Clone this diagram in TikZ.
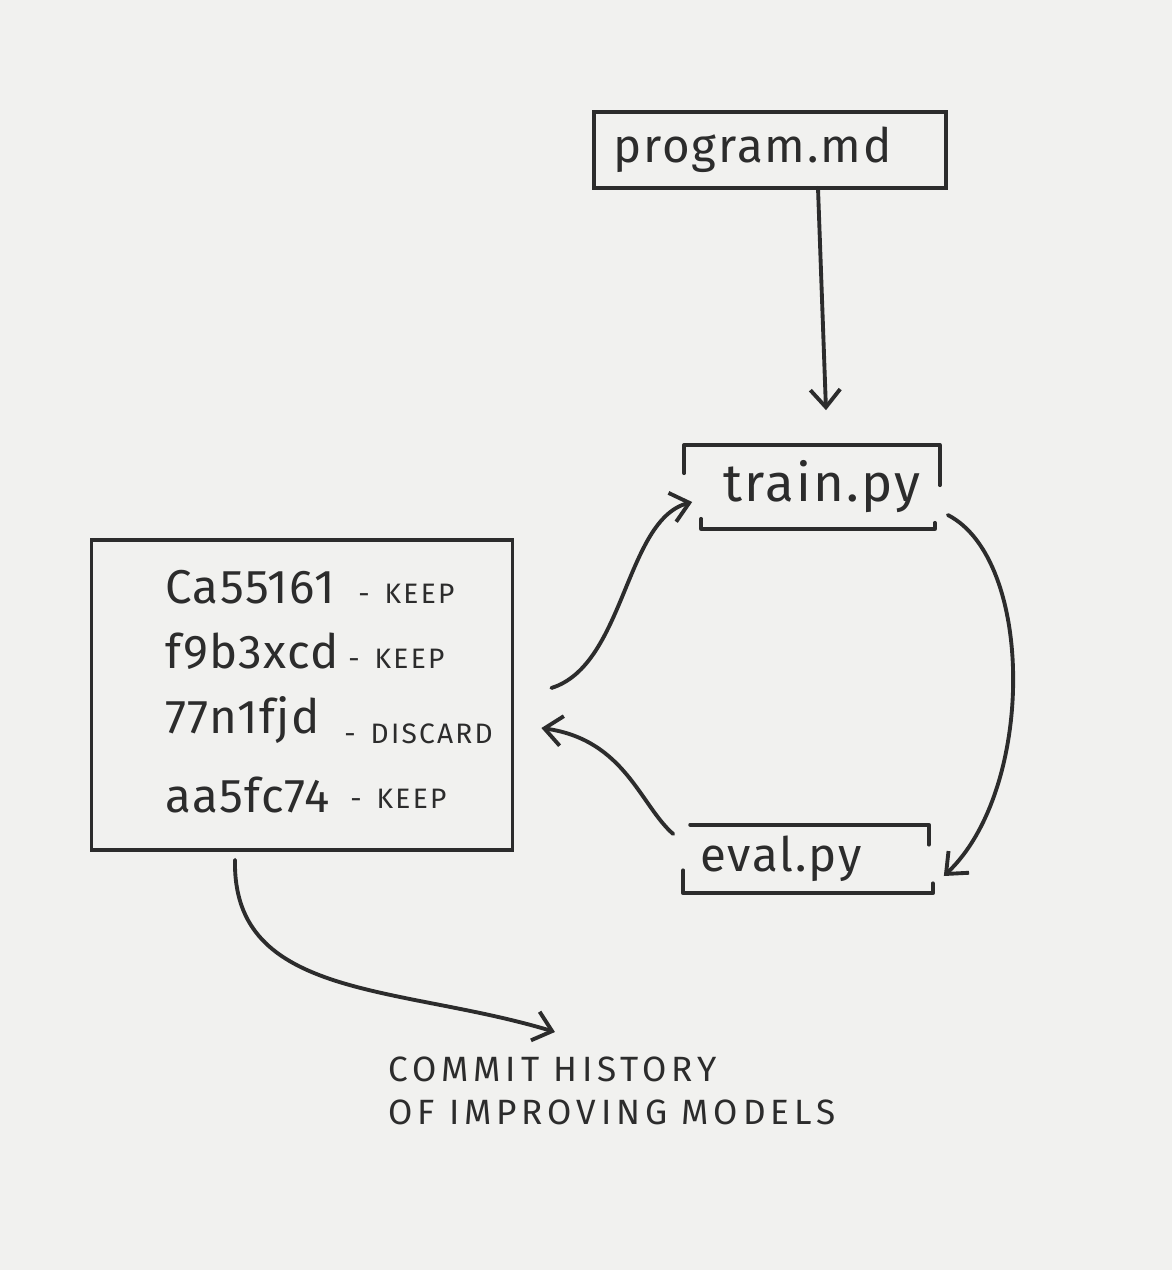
\documentclass[tikz,border=0pt]{standalone}
\usepackage{fontspec}
\setmainfont{Fira Sans}
\usetikzlibrary{arrows.meta}
\definecolor{inkc}{HTML}{2C2C2C}
\definecolor{paper}{HTML}{F1F1EF}
\begin{document}
\begin{tikzpicture}[x=0.02cm,y=-0.02cm,
  ink/.style={draw=inkc, line width=2.2pt, line cap=round, line join=round},
  arr/.style={ink, -{Straight Barb[length=10pt,width=17pt,line width=2.2pt]}},
  filetxt/.style={font=\fontsize{#1}{32}\selectfont\addfontfeature{LetterSpace=4}, text=inkc},
  hash/.style={font=\fontsize{27}{30}\selectfont\addfontfeature{LetterSpace=3}, text=inkc, anchor=base west, inner sep=0pt},
  verdict/.style={font=\fontsize{16}{18}\selectfont\addfontfeature{LetterSpace=8}, text=inkc, anchor=base west, inner sep=0pt},
  caption/.style={font=\fontsize{20}{24}\selectfont\addfontfeature{LetterSpace=14}, text=inkc, align=left, inner sep=0pt}]
\fill[paper] (0,0) rectangle (1172,1270);

% program.md
\node[draw=inkc, line width=2.2pt, minimum width=7.04cm, minimum height=1.52cm, filetxt=27] (prog) at (770,150) {program.md\hspace*{0.7cm}};

% train.py
\node[minimum width=5.1cm, minimum height=1.66cm, filetxt=30] (train) at (812,487) {\hspace*{0.4cm}train.py};
\draw[ink] ([yshift=-0.56cm]train.north west) -- (train.north west) -- (train.north east) -- ([yshift=-0.8cm]train.north east);
\draw[ink] ([xshift=0.34cm,yshift=0.2cm]train.south west) -- ([xshift=0.34cm]train.south west) -- ([xshift=-0.1cm]train.south east) -- ([xshift=-0.1cm,yshift=0.12cm]train.south east);

% eval.py
\node[minimum width=4.9cm, minimum height=1.36cm, filetxt=27] (eval) at (806,859) {eval.py\hspace*{1.0cm}};
\draw[ink] ([xshift=0.14cm]eval.north west) -- (eval.north east) -- ([yshift=-0.4cm]eval.north east);
\draw[ink] ([yshift=0.46cm]eval.south west) -- (eval.south west) -- ([xshift=0.08cm]eval.south east) -- ([xshift=0.08cm,yshift=0.2cm]eval.south east);

% commits
\node[draw=inkc, line width=2.2pt, minimum width=8.42cm, minimum height=6.2cm] (commits) at (302,695) {};
\node[hash] (h1) at (165,603) {Ca55161};
\node[verdict] (v1) at (358,603) {-\hspace{0.3cm}KEEP};
\node[hash] (h2) at (165,668) {f9b3xcd};
\node[verdict] (v2) at (348,668) {-\hspace{0.3cm}KEEP};
\node[hash] (h3) at (165,733) {77n1fjd};
\node[verdict] (v3) at (344,743) {-\hspace{0.3cm}DISCARD};
\node[hash] (h4) at (165,812) {aa5fc74};
\node[verdict] (v4) at (350,808) {-\hspace{0.3cm}KEEP};

% caption
\node[caption, anchor=north west] (cap) at (388,1057) {COMMIT HISTORY\\OF IMPROVING MODELS};

% connectors
\draw[arr] ([xshift=0.96cm,yshift=0.04cm]prog.south) -- ([xshift=0.28cm,yshift=0.7cm]train.north);
\draw[arr] ([xshift=0.74cm,yshift=0.14cm]commits.east) .. controls (625,665) and (625,520) .. ([xshift=0.16cm,yshift=-0.3cm]train.west);
\draw[arr] ([xshift=0.16cm,yshift=-0.56cm]train.east) .. controls (1035,560) and (1035,790) .. ([xshift=0.3cm,yshift=-0.34cm]eval.east);
\draw[arr] ([xshift=-0.2cm,yshift=0.5cm]eval.west) .. controls (640,805) and (625,740) .. ([xshift=0.54cm,yshift=-0.66cm]commits.east);
\draw[arr] ([xshift=-1.34cm,yshift=-0.16cm]commits.south) .. controls (232,1000) and (400,985) .. ([xshift=3.34cm,yshift=0.5cm]cap.north west);
\end{tikzpicture}
\end{document}
